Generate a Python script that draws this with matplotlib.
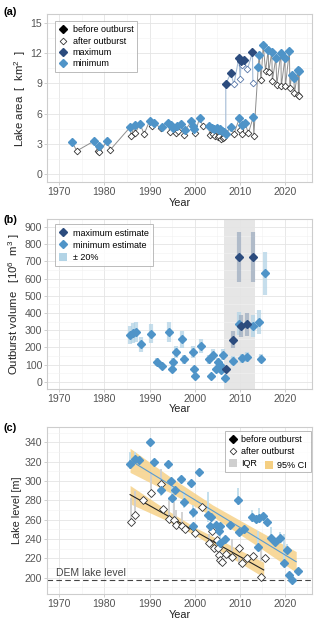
import numpy as np
import matplotlib
matplotlib.use('Agg')
import matplotlib.pyplot as plt
from matplotlib.lines import Line2D
from matplotlib.patches import Patch

plt.rcParams['font.family'] = ['Liberation Sans', 'DejaVu Sans']
plt.rcParams['mathtext.fontset'] = 'custom'
plt.rcParams['mathtext.rm'] = 'Liberation Sans'
plt.rcParams['mathtext.it'] = 'Liberation Sans:italic'

# ---------------- Panel (a): lake area ----------------
# kind: 1 = before outburst (filled), 0 = after outburst (open)
a_min_years = [1972.8, 1973.9, 1977.8, 1978.5, 1978.8, 1978.9, 1980.6, 1981.3,
               1985.7, 1985.9, 1986.7, 1986.8, 1987.9, 1988.8, 1990.0, 1990.5,
               1990.9, 1992.5, 1992.7, 1994.0, 1994.5, 1994.8, 1995.3, 1995.8,
               1996.0, 1996.4, 1997.0, 1997.6, 1997.9, 1999.3, 1999.6, 1999.8,
               2000.1, 2001.1, 2001.8, 2003.2, 2003.3, 2003.8, 2004.0, 2004.3,
               2004.6, 2004.9, 2005.1, 2005.3, 2005.5, 2005.7, 2005.9, 2006.0,
               2006.2, 2006.4, 2006.6, 2006.9, 2008.0, 2008.7, 2009.9, 2010.1,
               2010.4, 2010.6, 2011.2, 2011.9, 2013.0, 2013.1, 2014.1, 2014.3,
               2014.7, 2015.2, 2015.7, 2016.3, 2016.4, 2017.1, 2017.2, 2018.0,
               2018.2, 2019.1, 2019.2, 2020.0, 2020.1, 2021.0, 2021.1, 2021.5,
               2022.0, 2022.1, 2022.9, 2023.0, 2023.1, 2023.2]
a_min_area = [3.2, 2.3, 3.3, 2.3, 2.8, 2.15, 3.3, 2.4,
              4.65, 3.77, 4.85, 4.04, 4.97, 3.97, 5.25, 4.75,
              5.05, 4.6, 4.65, 5.1, 4.2, 4.82, 4.6, 4.1,
              4.75, 4.3, 4.92, 3.9, 4.35, 5.22, 4.8, 4.45,
              4.1, 5.55, 4.8, 4.8, 3.87, 4.6, 4.0, 4.5,
              3.8, 4.6, 3.7, 4.4, 3.8, 4.5, 3.5, 4.3,
              3.6, 4.2, 3.7, 4.0, 4.7, 3.97, 5.53, 4.4,
              4.87, 3.97, 5.03, 4.04, 5.69, 3.77, 10.66, 11.8,
              9.33, 12.8, 10.26, 12.31, 10.1, 12.15, 9.23, 11.55,
              8.84, 12.05, 8.7, 11.49, 8.7, 12.25, 8.5, 9.83,
              9.5, 8.0, 10.33, 7.83, 10.2, 7.7]
a_min_kind = [1, 0, 1, 0, 1, 0, 1, 0,
              1, 0, 1, 0, 1, 0, 1, 0,
              1, 0, 1, 1, 0, 1, 1, 0,
              1, 0, 1, 0, 1, 1, 1, 1,
              0, 1, 0, 1, 0, 1, 0, 1,
              0, 1, 0, 1, 0, 1, 0, 1,
              0, 1, 0, 1, 1, 0, 1, 0,
              1, 0, 1, 0, 1, 0, 1, 1,
              0, 1, 0, 1, 0, 1, 0, 1,
              0, 1, 0, 1, 0, 1, 0, 1,
              1, 0, 1, 0, 1, 0]

a_max_years = [2006.9, 2006.9, 2008.0, 2008.7, 2009.8, 2010.1, 2010.3, 2010.5,
               2010.9, 2011.7, 2012.8, 2012.9]
a_max_area = [4.0, 8.94, 10.0, 8.9, 11.55, 9.43, 11.25, 10.8,
              11.3, 10.4, 12.08, 9.07]
a_max_kind = [-1, 1, 1, 0, 1, 0, 1, 0, 1, 0, 1, 0]

# ---------------- Panel (b): outburst volume ----------------
b_min_years = [1985.7, 1986.4, 1987.0, 1988.2, 1990.3, 1991.7, 1992.8, 1994.3,
               1994.9, 1995.2, 1995.9, 1997.2, 1997.7, 1999.6, 1999.9, 2000.0,
               2001.5, 2003.2, 2003.7, 2004.0, 2004.8, 2005.2, 2005.6, 2005.9,
               2006.2, 2006.8, 2008.5, 2009.8, 2010.5, 2011.6, 2013.0, 2014.3,
               2014.6, 2015.5]
b_min_vol = [273, 283, 292, 219, 281, 118, 93, 290,
             74, 116, 176, 248, 132, 174, 74, 33,
             209, 132, 33, 157, 74, 118, 99, 70,
             159, 21, 124, 339, 137, 145, 325, 350,
             134, 631]
b_max_years = [2006.9, 2008.4, 2009.8, 2010.3, 2011.6, 2013.0]
b_max_vol = [74, 246, 724, 323, 335, 728]
b_shade = [2006.6, 2013.4]
b_err_frac = 0.20

# ---------------- Panel (c): lake level ----------------
c_bef_years = [1985.7, 1986.8, 1987.7, 1990.0, 1990.9, 1992.6, 1994.0, 1994.8,
               1994.9, 1995.6, 1996.9, 1997.6, 1999.3, 1999.7, 1999.7, 2001.0,
               2002.9, 2003.7, 2003.4, 2004.8, 2005.7, 2005.4, 2005.7, 2006.7,
               2007.9, 2009.6, 2009.9, 2010.9, 2012.7, 2013.6, 2014.3, 2014.0,
               2015.1, 2016.0, 2016.9, 2017.8, 2018.9, 2020.4, 2019.7, 2021.0,
               2021.6, 2022.8]
c_bef_level = [318, 323, 321.5, 340, 319.5, 290.5, 318, 300,
               283, 290.5, 302, 278.5, 298.5, 268, 253, 309,
               264.5, 262.5, 253.5, 254.5, 253.5, 248.5, 235.5, 240.5,
               254.5, 280.5, 247.5, 250, 263, 260.5, 261.5, 232,
               264, 258, 241.5, 237, 241.5, 228.5, 215, 203,
               197.5, 207]
c_aft_years = [1985.9, 1986.8, 1988.6, 1990.4, 1992.6, 1992.9, 1994.3, 1995.4,
               1995.8, 1997.3, 1997.8, 2000.0, 2001.7, 2003.2, 2003.8, 2004.3,
               2004.9, 2005.2, 2005.4, 2005.7, 2006.0, 2007.0, 2008.3, 2009.8,
               2010.4, 2011.6, 2012.9, 2014.6, 2015.5]
c_aft_level = [258, 264.5, 280, 288, 297, 271, 261, 260,
               255, 254, 250, 246, 273.4, 236.2, 248.6, 230.3,
               238.5, 231, 223, 218.3, 216.6, 225, 221.7, 230.3,
               214.8, 220, 222.4, 201, 220]
# IQR bars (before outburst, light blue)
c_iqr_b_years = [1985.7, 1986.8, 1992.6, 1994.9, 1997.6, 1999.7, 2002.9, 2005.7,
                 2009.6, 2012.7, 2014.0, 2014.3, 2016.9, 2018.9, 2019.7, 2020.4]
c_iqr_b_lo = [313, 318, 285, 280, 272, 262, 258, 232,
              275, 258, 228, 258, 238, 238, 212, 225]
c_iqr_b_hi = [330, 330, 305, 300, 290, 275, 289, 245,
              293, 270, 248, 272, 252, 247, 245, 235]
# IQR bars (after outburst, grey)
c_iqr_a_years = [1985.9, 1986.8, 1990.4, 1992.6, 1994.3, 1995.4, 1995.8, 1997.3,
                 2003.2, 2005.4, 2008.3, 2009.8, 2014.6]
c_iqr_a_lo = [258, 265, 287, 297, 258, 255, 252, 250,
              235, 215, 228, 213, 217]
c_iqr_a_hi = [283, 290, 309, 313, 282, 278, 270, 268,
              245, 240, 240, 222, 232]
# regression lines and 95% CI bands
c_fit_b_years = [1985.7, 1995.0, 2004.0, 2013.0, 2022.5]
c_fit_b_level = [321.5, 295.0, 269.3, 243.6, 216.5]
c_fit_b_lo = [309.0, 287.0, 263.3, 235.6, 205.5]
c_fit_b_hi = [334.0, 303.0, 275.3, 251.6, 227.0]
c_fit_a_years = [1985.7, 1993.0, 2000.5, 2008.0, 2015.3]
c_fit_a_level = [286.0, 266.8, 247.0, 227.2, 208.0]
c_fit_a_lo = [276.5, 261.0, 243.0, 221.0, 200.5]
c_fit_a_hi = [295.5, 272.6, 251.0, 233.4, 216.0]
c_dem_level = 197.2

# ---------------- styling ----------------
C_MAX = '#2C4C7E'
C_MIN = '#4F94C8'
C_MAXLINE = '#A5BCD6'
C_MINLINE = '#8E8E8E'
C_ERR_MIN = '#B3D4E6'
C_ERR_MAX = '#9AA9BE'
C_CI = '#F5CF82'
C_IQR = '#CFCFCF'

fig = plt.figure(figsize=(3.2, 6.28), dpi=100)
axA = fig.add_axes([0.147, 0.710, 0.828, 0.268])
axB = fig.add_axes([0.147, 0.381, 0.828, 0.270])
axC = fig.add_axes([0.147, 0.054, 0.828, 0.266])

xt = [1970, 1980, 1990, 2000, 2010, 2020]
xt_minor = [1975, 1985, 1995, 2005, 2015, 2025]


def style(ax, yt, ytm, ylim):
    ax.set_xlim(1967.3, 2026)
    ax.set_ylim(*ylim)
    ax.set_xticks(xt)
    ax.set_xticks(xt_minor, minor=True)
    ax.set_yticks(yt)
    ax.set_yticks(ytm, minor=True)
    ax.grid(which='major', color='#E4E4E4', lw=0.6)
    ax.grid(which='minor', color='#F1F1F1', lw=0.4)
    ax.set_axisbelow(True)
    for s in ax.spines.values():
        s.set_color('#CDCDCD')
        s.set_linewidth(0.8)
    ax.tick_params(which='major', length=2, width=0.5, color='#BBBBBB',
                   labelsize=7.6, labelcolor='#555555', pad=1.5)
    ax.tick_params(which='minor', length=0)
    ax.set_xlabel('Year', fontsize=7.8, labelpad=0.5, color='#222222')


# ---- (a)
axA.plot(a_max_years, a_max_area, color=C_MAXLINE, lw=0.8, zorder=2)
axA.plot(a_min_years, a_min_area, color=C_MINLINE, lw=0.7, zorder=2)
my = np.array(a_min_years); ma = np.array(a_min_area); mk = np.array(a_min_kind)
axA.plot(my[mk == 0], ma[mk == 0], 'D', ls='none', ms=3.4, mfc='white',
         mec='#333333', mew=0.6, zorder=3)
axA.plot(my[mk == 1], ma[mk == 1], 'D', ls='none', ms=3.6, color=C_MIN,
         mec=C_MIN, zorder=4)
xy = np.array(a_max_years); xa = np.array(a_max_area); xk = np.array(a_max_kind)
axA.plot(xy[xk == 0], xa[xk == 0], 'D', ls='none', ms=3.4, mfc='white',
         mec='#5877A8', mew=0.6, zorder=3)
axA.plot(xy[xk == 1], xa[xk == 1], 'D', ls='none', ms=3.6, color=C_MAX,
         mec=C_MAX, zorder=4)
style(axA, [0, 3, 6, 9, 12, 15], [1.5, 4.5, 7.5, 10.5, 13.5], (-0.8, 15.9))
axA.set_ylabel('Lake area  [  km$^2$  ]', fontsize=8.2, labelpad=2,
               color='#222222')
hA = [Line2D([], [], marker='D', ls='none', color='black', ms=3.6),
      Line2D([], [], marker='D', ls='none', mfc='white', mec='#333333', mew=0.6, ms=3.4),
      Line2D([], [], marker='D', ls='none', color=C_MAX, ms=3.6),
      Line2D([], [], marker='D', ls='none', color=C_MIN, ms=3.6)]
legA = axA.legend(hA, ['before outburst', 'after outburst', 'maximum', 'minimum'],
                  loc='upper left', bbox_to_anchor=(0.03, 0.955), fontsize=6.5,
                  frameon=True, fancybox=False, edgecolor='#AAAAAA',
                  handlelength=0.9, handletextpad=0.6, borderpad=0.45,
                  labelspacing=0.25, borderaxespad=0)
legA.get_frame().set_linewidth(0.7)

# ---- (b)
axB.axvspan(b_shade[0], b_shade[1], color='#E6E6E6', lw=0, zorder=0.5)
bmv = np.array(b_min_vol)
axB.vlines(b_min_years, bmv * (1 - b_err_frac), bmv * (1 + b_err_frac),
           color=C_ERR_MIN, lw=3.0, alpha=0.75, zorder=2)
bxv = np.array(b_max_vol)
axB.vlines(b_max_years, bxv * (1 - b_err_frac), bxv * (1 + b_err_frac),
           color=C_ERR_MAX, lw=3.0, alpha=0.7, zorder=2)
axB.plot(b_min_years, b_min_vol, 'D', ls='none', ms=3.7, color=C_MIN, zorder=3)
axB.plot(b_max_years, b_max_vol, 'D', ls='none', ms=3.7, color=C_MAX, zorder=4)
style(axB, list(range(0, 901, 100)), list(range(50, 901, 100)), (-40, 946))
axB.set_ylabel('Outburst volume   [10$^{6}$  m$^{3}$ ]', fontsize=8.2,
               labelpad=2, color='#222222')
hB = [Line2D([], [], marker='D', ls='none', color=C_MAX, ms=3.6),
      Line2D([], [], marker='D', ls='none', color=C_MIN, ms=3.6),
      Patch(facecolor=C_ERR_MIN, edgecolor='none')]
legB = axB.legend(hB, ['maximum estimate', 'minimum estimate', '± 20%'],
                  loc='upper left', bbox_to_anchor=(0.03, 0.97), fontsize=6.5,
                  frameon=True, fancybox=False, edgecolor='#AAAAAA',
                  handlelength=0.9, handleheight=1.1, handletextpad=0.6,
                  borderpad=0.45, labelspacing=0.3, borderaxespad=0)
legB.get_frame().set_linewidth(0.7)

# ---- (c)
axC.fill_between(c_fit_b_years, c_fit_b_lo, c_fit_b_hi, color=C_CI, alpha=0.8,
                 lw=0, zorder=1)
axC.fill_between(c_fit_a_years, c_fit_a_lo, c_fit_a_hi, color=C_CI, alpha=0.8,
                 lw=0, zorder=1)
axC.vlines(c_iqr_b_years, c_iqr_b_lo, c_iqr_b_hi, color='#BFDDEC', lw=1.3,
           zorder=2)
axC.vlines(c_iqr_a_years, c_iqr_a_lo, c_iqr_a_hi, color=C_IQR, lw=1.3,
           zorder=2)
axC.plot(c_fit_b_years, c_fit_b_level, color='#5A9BD0', lw=0.8, zorder=3)
axC.plot(c_fit_a_years, c_fit_a_level, color='#222222', lw=0.8, zorder=3)
axC.axhline(c_dem_level, color='#444444', lw=0.8, ls=(0, (5, 3)), zorder=2)
axC.plot(c_aft_years, c_aft_level, 'D', ls='none', ms=3.6, mfc='white',
         mec='#333333', mew=0.6, zorder=4)
axC.plot(c_bef_years, c_bef_level, 'D', ls='none', ms=3.8, color=C_MIN,
         zorder=5)
axC.text(1969.2, c_dem_level + 2.2, 'DEM lake level', fontsize=7.5,
         color='#444444', ha='left', va='bottom')
style(axC, list(range(200, 341, 20)), list(range(190, 351, 20)), (183, 356))
axC.set_ylabel('Lake level [m]', fontsize=7.8, labelpad=2, color='#222222')
hC = [Line2D([], [], marker='D', ls='none', color='black', ms=3.6),
      Line2D([], [], marker='D', ls='none', mfc='white', mec='#333333', mew=0.6, ms=3.4),
      Patch(facecolor=C_IQR, edgecolor='none')]
legC = axC.legend(hC, ['before outburst  ', 'after outburst', 'IQR'],
                  loc='upper right', bbox_to_anchor=(0.995, 0.975), fontsize=6.5,
                  frameon=True, fancybox=False, edgecolor='#AAAAAA',
                  handlelength=0.9, handleheight=1.0, handletextpad=0.45,
                  borderpad=0.45, labelspacing=0.3, borderaxespad=0)
legC.get_frame().set_linewidth(0.7)
axC.add_artist(legC)
legC2 = axC.legend([Patch(facecolor=C_CI, edgecolor='none')], ['95% CI'],
                   loc='upper left', bbox_to_anchor=(0.822, 0.795), fontsize=6.5,
                   frameon=False, handlelength=0.9, handleheight=1.0,
                   handletextpad=0.45, borderpad=0.0, borderaxespad=0)

# panel labels
fig.text(0.012, 0.981, '(a)', fontsize=7.8, fontweight='bold', va='center')
fig.text(0.012, 0.650, '(b)', fontsize=7.8, fontweight='bold', va='center')
fig.text(0.012, 0.319, '(c)', fontsize=7.8, fontweight='bold', va='center')

fig.savefig('out.png', dpi=100, facecolor='white')
